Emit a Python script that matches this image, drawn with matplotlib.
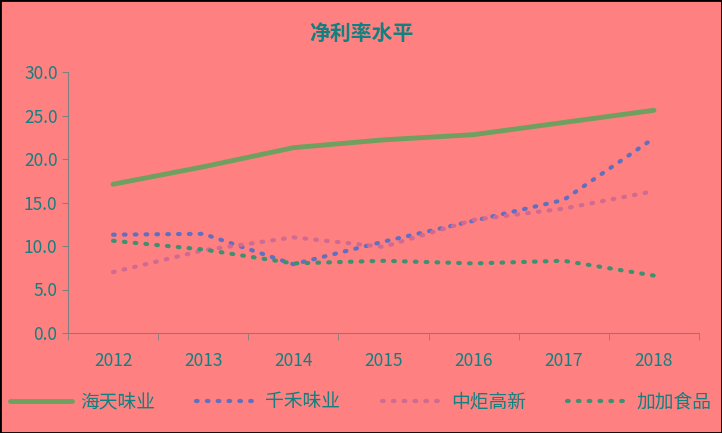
import matplotlib
matplotlib.use("Agg")
import matplotlib.pyplot as plt

plt.rcParams['font.family'] = ['Noto Sans CJK SC', 'DejaVu Sans']

years = ['2012', '2013', '2014', '2015', '2016', '2017', '2018']
haitian = [17.1, 19.1, 21.3, 22.2, 22.8, 24.2, 25.6]
qianhe = [11.3, 11.4, 7.9, 10.5, 12.9, 15.3, 22.4]
zhongju = [7.0, 9.5, 11.0, 9.9, 13.0, 14.3, 16.3]
jiajia = [10.6, 9.6, 8.0, 8.3, 8.0, 8.3, 6.6]

bg = '#FF8080'
tc = '#108080'
fig = plt.figure(figsize=(7.22, 4.33), dpi=100, facecolor=bg)
ax = fig.add_axes([68/722, 1-333/433, (699-68)/722, (333-72)/433], facecolor=bg)
x = range(len(years))
dot = (0, (0.4, 2.2))
ax.plot(x, haitian, color='#6FA060', lw=3.5, label='海天味业', solid_capstyle='round')
ax.plot(x, qianhe, color='#6070C0', lw=3, ls=dot, dash_capstyle='round', label='千禾味业')
ax.plot(x, zhongju, color='#D06A90', lw=3, ls=dot, dash_capstyle='round', label='中炬高新')
ax.plot(x, jiajia, color='#3F9070', lw=3, ls=dot, dash_capstyle='round', label='加加食品')

ax.set_xlim(-0.5, 6.5)
ax.set_ylim(0, 30)
ax.set_yticks([0, 5, 10, 15, 20, 25, 30])
ax.set_yticklabels([f'{v:.1f}' for v in [0, 5, 10, 15, 20, 25, 30]])
ax.set_xticks(list(x))
ax.set_xticklabels(years)
ax.set_xticks([i - 0.5 for i in range(8)], minor=True)
ax.tick_params(axis='x', which='major', length=0, pad=14, labelsize=12.5, labelcolor=tc)
ax.tick_params(axis='x', which='minor', length=5, color='#808080')
ax.tick_params(axis='y', length=4, color='#808080', labelsize=12.5, labelcolor=tc)
for s in ['top', 'right']:
    ax.spines[s].set_visible(False)
for s in ['left', 'bottom']:
    ax.spines[s].set_color('#808080')

fig.text(0.5, 1-33/433, '净利率水平', ha='center', va='center', fontsize=15, fontweight='bold', color=tc)
fig.legend(loc='center', bbox_to_anchor=(0.5, 1-402/433), ncol=4, frameon=False,
           fontsize=13.5, labelcolor=tc, handlelength=3.3, handletextpad=0.4, columnspacing=2.2)
fig.patches.append(plt.Rectangle((0, 0), 1, 1, transform=fig.transFigure, fill=False, ec='black', lw=2))
fig.savefig('out.png', dpi=100, facecolor=bg)
